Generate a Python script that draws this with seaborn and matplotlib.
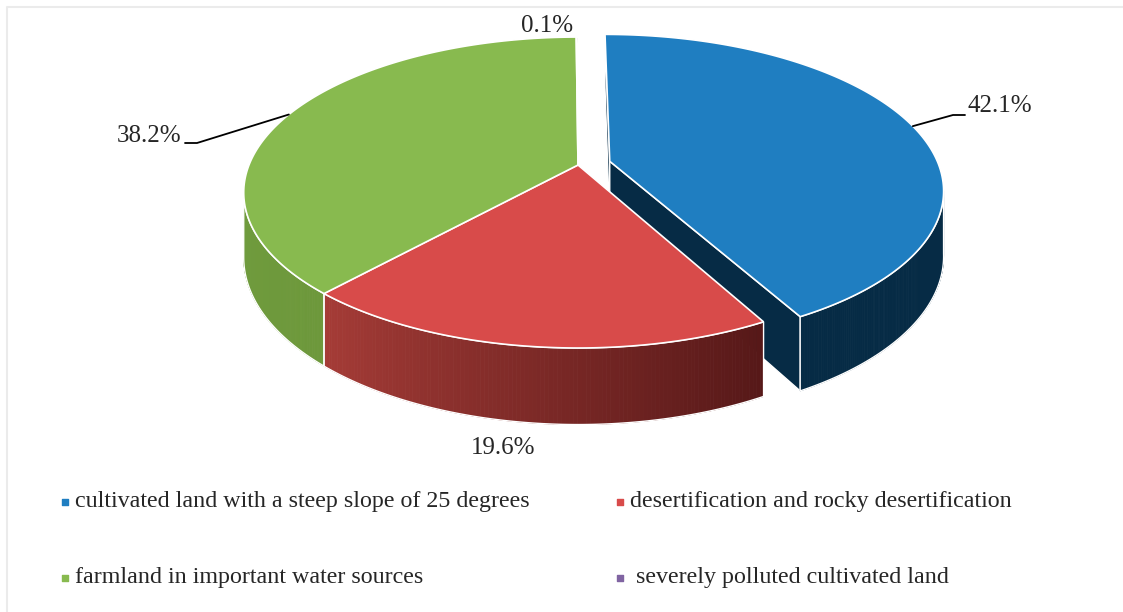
import numpy as np
import matplotlib
matplotlib.use("Agg")
import matplotlib.pyplot as plt
from matplotlib.patches import Polygon
from matplotlib.colors import to_rgb
import seaborn as sns

# ---- data -------------------------------------------------------------
categories = [
    "cultivated land with a steep slope of 25 degrees",
    "desertification and rocky desertification",
    "farmland in important water sources",
    " severely polluted cultivated land",
]
shares = [42.1, 19.6, 38.2, 0.1]
pct_labels = ["42.1%", "19.6%", "38.2%", "0.1%"]
explode = [0.1, 0.0, 0.0, 0.0]

top_colors = ["#1F7EC1", "#D84B4A", "#88BA4F", "#8064A2"]
# wall colour at the start / end angle of each slice
side_colors = [("#062B45", "#062B45"), ("#561818", "#A63C37"),
               ("#6D983B", "#78A544"), ("#5E4A7A", "#5E4A7A")]

# ---- style ------------------------------------------------------------
sns.set_theme(style="white")
plt.rcParams["font.family"] = ["Liberation Serif", "DejaVu Serif"]

W, Hpx = 1123, 612
fig = plt.figure(figsize=(W / 100, Hpx / 100), dpi=100)
ax = fig.add_axes([0, 0, 1, 1])
ax.set_xlim(0, W)
ax.set_ylim(Hpx, 0)
ax.axis("off")

# perspective projection of a unit disk seen from the front and above
CX, CY = 578.0, 165.0
A, B, K = 329.0, 150.6, -0.177
DEPTH = 63.0
VIS0, VIS1 = 100.2, 259.8   # range of angles where the outer wall faces us


def rim(theta, off):
    t = np.radians(theta)
    return np.sin(t) + off[0], -np.cos(t) + off[1]


def proj(x, y):
    d = 1 + K * y
    return CX + A * x / d, CY + B * y / d


def drop(y):
    return DEPTH / (1 + K * y)


total = float(sum(shares))
bounds = np.concatenate([[0.0], np.cumsum(shares) / total * 360.0])
slices = []
for i in range(len(shares)):
    t0, t1 = bounds[i], bounds[i + 1]
    mid = np.radians((t0 + t1) / 2)
    off = (explode[i] * np.sin(mid), -explode[i] * np.cos(mid))
    slices.append((t0, t1, off))


def lerp(c0, c1, f):
    a, b = np.array(to_rgb(c0)), np.array(to_rgb(c1))
    return tuple(a + (b - a) * f)


def draw_radial_face(i, theta, z):
    t0, t1, off = slices[i]
    x0, y0 = off
    x1, y1 = rim(theta, off)
    px0, py0 = proj(x0, y0)
    px1, py1 = proj(x1, y1)
    pts = [(px0, py0), (px1, py1), (px1, py1 + drop(y1)), (px0, py0 + drop(y0))]
    ax.add_patch(Polygon(pts, closed=True, facecolor=side_colors[i][0],
                         edgecolor="white", lw=1.0, zorder=z))


def draw_wall(i, z):
    t0, t1, off = slices[i]
    a0, a1 = max(t0, VIS0), min(t1, VIS1)
    if a1 <= a0:
        return
    th = np.linspace(a0, a1, 120)
    xs, ys = rim(th, off)
    px, py = proj(xs, ys)
    pb = py + drop(ys)
    for j in range(len(th) - 1):
        f = (th[j] - t0) / (t1 - t0)
        c = lerp(side_colors[i][0], side_colors[i][1], f)
        quad = [(px[j], py[j]), (px[j + 1], py[j + 1]),
                (px[j + 1], pb[j + 1]), (px[j], pb[j])]
        ax.add_patch(Polygon(quad, closed=True, facecolor=c, edgecolor=c,
                             lw=0.6, zorder=z))
    outline = list(zip(px, py)) + list(zip(px[::-1], pb[::-1]))
    ax.add_patch(Polygon(outline, closed=True, fill=False,
                         edgecolor="white", lw=1.0, zorder=z + 0.1))


def draw_top(i, z):
    t0, t1, off = slices[i]
    th = np.linspace(t0, t1, max(4, int((t1 - t0) * 2)))
    xs, ys = rim(th, off)
    px, py = proj(xs, ys)
    cx, cy = proj(*off)
    pts = [(cx, cy)] + list(zip(px, py))
    ax.add_patch(Polygon(pts, closed=True, facecolor=top_colors[i],
                         edgecolor="white", lw=1.2, zorder=z))


# exploded slice sits behind the rest
draw_radial_face(0, bounds[0], 1)
draw_radial_face(0, bounds[1], 1)
draw_wall(0, 2)
draw_top(0, 3)
for i in (1, 2, 3):
    draw_wall(i, 4)
for i in (1, 2, 3):
    draw_top(i, 5)

# ---- percentage labels ------------------------------------------------
def anchor(i):
    t0, t1, off = slices[i]
    return proj(*rim((t0 + t1) / 2, off))

LBL = 18
ax_, ay_ = anchor(0)
ax.plot([ax_, 953, 965], [ay_, 115, 115], color="black", lw=1.3, zorder=6)
ax.text(967, 106, pct_labels[0], ha="left", va="center", fontsize=LBL, zorder=7)

gx, gy = anchor(2)
ax.plot([gx, 197, 185], [gy, 143, 143], color="black", lw=1.3, zorder=6)
ax.text(181, 136, pct_labels[2], ha="right", va="center", fontsize=LBL, zorder=7)

ax.text(503, 448, pct_labels[1], ha="center", va="center", fontsize=LBL, zorder=7)
ax.text(547, 26, pct_labels[3], ha="center", va="center", fontsize=LBL, zorder=7)

# ---- legend -----------------------------------------------------------
leg_pos = [(65, 502), (620, 502), (65, 578), (620, 578)]
for (lx, ly), name, col in zip(leg_pos, categories, top_colors):
    ax.scatter([lx], [ly], marker="s", s=24, color=col, zorder=7)
    ax.text(lx + 10, ly, name, ha="left", va="center", fontsize=17.3, zorder=7)

# chart frame
ax.plot([7, 7, W], [Hpx, 7, 7], color="#EBEBEB", lw=1.5, zorder=0)

fig.savefig("out.png", dpi=100)
